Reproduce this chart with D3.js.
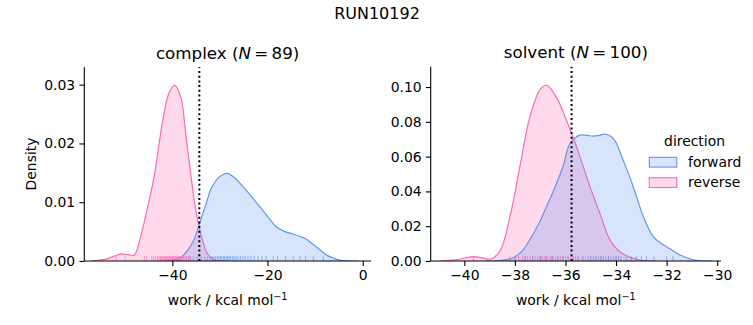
<!DOCTYPE html>
<html><head><meta charset="utf-8">
<script src="https://cdn.jsdelivr.net/npm/d3@7"></script>
<style>body{margin:0;background:#fff}text{font-family:"DejaVu Sans",sans-serif;fill:#000}</style>
</head><body><svg id="c" width="753" height="325"></svg>
<script>
// ---- data ----
const suptitle = "RUN10192";
const directions = ["forward", "reverse"];
const colors = {forward: "#6495ED", reverse: "#FF69B4"};

// complex panel: density curves [work, density]
const complexForwardX = [-42, -40, -38.2, -36.8, -35.4, -34.25, -33.0, -31.9, -30.4, -29.1, -28.4, -27.0, -25.1, -23.3, -21.6, -19.8, -18.1, -16.3, -14.6, -13.2, -11.8, -10.4, -9.0, -7.6, -6.2, -4.5, -3.0, -1.0];
const complexForwardY = [0, 0.0001, 0.0006, 0.0018, 0.0037, 0.0065, 0.0095, 0.0122, 0.0141, 0.0148, 0.0149, 0.0142, 0.0126, 0.0109, 0.0092, 0.0074, 0.0058, 0.0050, 0.0046, 0.0042, 0.0037, 0.0028, 0.0019, 0.0010, 0.0005, 0.0001, 0.0000, 0];
const complexReverseX = [-57, -55.8, -53.5, -52.0, -50.8, -49.3, -48.0, -47.0, -45.6, -43.8, -42.1, -40.7, -39.5, -38.2, -37.2, -36.1, -35.1, -34.25, -33.4, -32.5, -31.4, -30.0, -28.5];
const complexReverseY = [0, 0.0001, 0.0004, 0.0009, 0.0012, 0.0011, 0.0010, 0.0031, 0.0077, 0.0145, 0.0235, 0.0286, 0.0299, 0.0278, 0.0218, 0.0145, 0.0088, 0.0054, 0.0028, 0.0011, 0.0003, 0.0000, 0];
const complexForwardRug = [-36.3, -34.8, -33.9, -33.2, -32.6, -32.1, -31.7, -31.3, -30.9, -30.5, -30.2, -29.9, -29.6, -29.3, -29.0, -28.7, -28.4, -28.1, -27.8, -27.4, -27.0, -26.6, -26.2, -25.7, -25.2, -24.7, -24.1, -23.5, -22.8, -22.0, -21.2, -20.3, -18.8, -17.9, -16.2, -14.6, -13.2, -12.0, -10.4, -8.3];
const complexReverseRug = [-51.8, -49.9, -45.9, -45.4, -44.3, -43.9, -43.5, -43.1, -42.8, -42.5, -42.3, -42.0, -41.8, -41.6, -41.4, -41.2, -41.0, -40.8, -40.6, -40.5, -40.3, -40.1, -40.0, -39.8, -39.7, -39.5, -39.4, -39.2, -39.0, -38.9, -38.7, -38.5, -38.3, -38.1, -37.9, -37.6, -37.3, -37.0, -36.6, -36.2, -35.6];
const complexMarker = -34.33;
const complexTicksX = [-40, -20, 0];
const complexTicksY = [0, 0.01, 0.02, 0.03];

// solvent panel
const solventForwardX = [-39.2, -38.6, -38.06, -37.70, -37.40, -37.05, -36.74, -36.40, -36.09, -35.82, -35.43, -35.15, -34.90, -34.65, -34.44, -34.11, -33.72, -33.32, -32.92, -32.53, -32.25, -32.0, -31.47, -30.95, -30.6, -30.2];
const solventForwardY = [0, 0.0003, 0.0019, 0.0060, 0.0125, 0.0215, 0.0316, 0.0430, 0.0546, 0.0676, 0.0724, 0.0722, 0.0718, 0.0723, 0.0730, 0.0705, 0.0580, 0.0427, 0.0255, 0.0140, 0.0105, 0.0082, 0.0034, 0.0006, 0.0001, 0];
const solventReverseX = [-41.0, -40.83, -40.2, -39.64, -39.3, -38.98, -38.59, -38.19, -37.80, -37.40, -37.0, -36.74, -36.35, -35.95, -35.69, -35.43, -35.03, -34.64, -34.24, -33.85, -33.32, -32.9, -32.4];
const solventReverseY = [0, 0.0001, 0.0010, 0.0025, 0.0018, 0.0010, 0.0057, 0.0259, 0.0546, 0.0833, 0.0987, 0.1010, 0.0939, 0.0805, 0.0709, 0.0600, 0.0427, 0.0274, 0.0121, 0.0053, 0.0015, 0.0003, 0];
const solventForwardRug = [-38.0, -37.6, -37.3, -37.0, -36.8, -36.5, -36.3, -36.1, -35.9, -35.7, -35.5, -35.3, -35.1, -35.0, -34.9, -34.8, -34.7, -34.6, -34.5, -34.4, -34.3, -34.2, -34.1, -34.0, -33.9, -33.8, -33.6, -33.4, -33.2, -33.0, -32.8, -32.5, -32.0, -31.75];
const solventReverseRug = [-39.64, -38.2, -38.0, -37.85, -37.7, -37.6, -37.5, -37.4, -37.3, -37.2, -37.1, -37.0, -36.95, -36.9, -36.8, -36.75, -36.7, -36.6, -36.55, -36.5, -36.4, -36.3, -36.2, -36.1, -36.0, -35.9, -35.8, -35.7, -35.6, -35.5, -35.35, -35.2, -35.0, -34.8, -34.6, -34.3, -34.0];
const solventMarker = -35.76;
const solventTicksX = [-40, -38, -36, -34, -32, -30];
const solventTicksY = [0, 0.02, 0.04, 0.06, 0.08, 0.10];

// ---- drawing ----
const svg = d3.select("#c");
svg.append("text").attr("x", 377).attr("y", 19).attr("text-anchor", "middle")
  .style("font-size", "16px").text(suptitle);

function panel(o) {
  const x = d3.scaleLinear().domain(o.xdom).range([o.x0, o.x1]);
  const y = d3.scaleLinear().domain(o.ydom).range([o.yb, o.yt]);
  const g = svg.append("g");
  const curve = d3.curveCatmullRom.alpha(0.5);
  const area = d3.area().x(d => x(d[0])).y0(y(0)).y1(d => y(d[1])).curve(curve);
  const line = d3.line().x(d => x(d[0])).y(d => y(d[1])).curve(curve);
  const clip = "clip" + o.id;
  svg.append("clipPath").attr("id", clip).append("rect")
    .attr("x", o.x0).attr("y", o.yt).attr("width", o.x1 - o.x0).attr("height", o.yb - o.yt);
  const pg = g.append("g").attr("clip-path", `url(#${clip})`);
  // reverse drawn first, forward on top
  [["reverse", o.revX, o.revY], ["forward", o.fwdX, o.fwdY]].forEach(([k, xs, ys]) => {
    const pts = xs.map((v, i) => [v, ys[i]]);
    pg.append("path").attr("d", area(pts)).attr("fill", colors[k]).attr("fill-opacity", 0.25);
    pg.append("path").attr("d", line(pts)).attr("fill", "none").attr("stroke", colors[k]).attr("stroke-width", 1.2);
  });
  const rugH = (o.yb - o.yt) * 0.025;
  [["reverse", o.revRug], ["forward", o.fwdRug]].forEach(([k, arr]) => {
    pg.selectAll(null).data(arr).enter().append("line")
      .attr("x1", d => x(d)).attr("x2", d => x(d))
      .attr("y1", o.yb).attr("y2", o.yb - rugH)
      .attr("stroke", colors[k]).attr("stroke-width", 1).attr("stroke-opacity", 0.7);
  });
  g.append("line").attr("x1", x(o.marker)).attr("x2", x(o.marker))
    .attr("y1", o.yb).attr("y2", o.yt).attr("stroke", "#000").attr("stroke-width", 2)
    .attr("stroke-dasharray", "2,2.7");
  // axes
  const fmt = d => d3.format(".0f")(d).replace("-", "\u2212");
  const xa = g.append("g").attr("transform", `translate(0,${o.yb})`)
    .call(d3.axisBottom(x).tickValues(o.ticksX).tickSize(4.9).tickPadding(4.2).tickFormat(fmt));
  const ya = g.append("g").attr("transform", `translate(${o.x0},0)`)
    .call(d3.axisLeft(y).tickValues(o.ticksY).tickSize(4.9).tickPadding(4.2).tickFormat(d3.format(".2f")));
  [xa, ya].forEach(a => {
    a.select(".domain").attr("stroke-width", 1.1);
    a.selectAll(".tick line").attr("stroke-width", 1.1);
    a.selectAll("text").style("font-size", "13.9px").style("font-family", "DejaVu Sans");
  });
  xa.select(".domain").attr("d", `M${o.x0},0H${o.x1}`);
  ya.select(".domain").attr("d", `M0,${o.yb}V${o.yt}`);
  // x label
  const xl = g.append("text").attr("x", (o.x0 + o.x1) / 2).attr("y", 305).attr("text-anchor", "middle")
    .style("font-size", "13.9px");
  xl.append("tspan").text("work / kcal mol");
  xl.append("tspan").attr("dy", -5.5).style("font-size", "9.7px").text("\u22121");
  // title
  const t = g.append("text").attr("x", (o.x0 + o.x1) / 2).attr("y", o.yt - 8.5).attr("text-anchor", "middle")
    .style("font-size", "16.7px");
  t.append("tspan").text(o.name + " (");
  t.append("tspan").style("font-style", "italic").text("N");
  t.append("tspan").text("\u2009=\u2009" + o.n + ")");
  return g;
}

panel({id: "a", name: "complex", n: 89, x0: 84.3, x1: 371, yb: 261, yt: 67.3,
  xdom: [-58.5, 1.74], ydom: [0, 0.03296],
  fwdX: complexForwardX, fwdY: complexForwardY, revX: complexReverseX, revY: complexReverseY,
  fwdRug: complexForwardRug, revRug: complexReverseRug, marker: complexMarker,
  ticksX: complexTicksX, ticksY: complexTicksY});
panel({id: "b", name: "solvent", n: 100, x0: 430.7, x1: 721, yb: 261, yt: 66.7,
  xdom: [-41.33, -29.85], ydom: [0, 0.1117],
  fwdX: solventForwardX, fwdY: solventForwardY, revX: solventReverseX, revY: solventReverseY,
  fwdRug: solventForwardRug, revRug: solventReverseRug, marker: solventMarker,
  ticksX: solventTicksX, ticksY: solventTicksY});

svg.append("text").attr("transform", "translate(36,164) rotate(-90)").attr("text-anchor", "middle")
  .style("font-size", "13.9px").text("Density");

// legend
const lg = svg.append("g");
lg.append("text").attr("x", 694.5).attr("y", 146).attr("text-anchor", "middle").style("font-size", "13.9px").text("direction");
directions.forEach((k, i) => {
  const yy = 157.3 + i * 20.4;
  lg.append("rect").attr("x", 649.3).attr("y", yy).attr("width", 27.5).attr("height", 9.8)
    .attr("fill", colors[k]).attr("fill-opacity", 0.25).attr("stroke", colors[k]).attr("stroke-width", 1.1);
  lg.append("text").attr("x", 688).attr("y", yy + 9.5).style("font-size", "13.9px").text(k);
});
</script></body></html>
